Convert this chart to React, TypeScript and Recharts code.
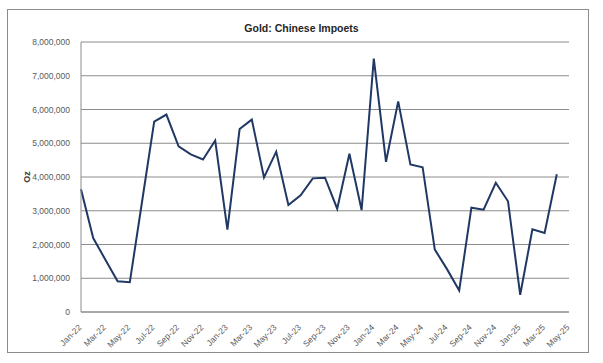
import { CartesianGrid, Line, LineChart, XAxis, YAxis } from "recharts";

const months = [
  "Jan-22", "Feb-22", "Mar-22", "Apr-22", "May-22", "Jun-22", "Jul-22", "Aug-22", "Sep-22", "Oct-22", "Nov-22", "Dec-22",
  "Jan-23", "Feb-23", "Mar-23", "Apr-23", "May-23", "Jun-23", "Jul-23", "Aug-23", "Sep-23", "Oct-23", "Nov-23", "Dec-23",
  "Jan-24", "Feb-24", "Mar-24", "Apr-24", "May-24", "Jun-24", "Jul-24", "Aug-24", "Sep-24", "Oct-24", "Nov-24", "Dec-24",
  "Jan-25", "Feb-25", "Mar-25", "Apr-25", "May-25",
];

// ounces imported per month (May-25 not yet reported)
const imports: (number | null)[] = [
  3640000, 2190000, 1550000, 910000, 880000, 3260000, 5640000, 5850000, 4910000, 4670000, 4520000, 5080000,
  2440000, 5420000, 5700000, 3990000, 4750000, 3170000, 3460000, 3960000, 3980000, 3060000, 4690000, 3020000,
  7510000, 4450000, 6240000, 4370000, 4290000, 1850000, 1270000, 640000, 3090000, 3030000, 3830000, 3280000,
  510000, 2450000, 2340000, 4080000, null,
];

const yTicks = [0, 1000000, 2000000, 3000000, 4000000, 5000000, 6000000, 7000000, 8000000];

const data = months.map((m, i) => ({ month: m, oz: imports[i] }));

const FONT = "'Liberation Sans', Arial, sans-serif";

const XTick = ({ x, y, payload }: any) => (
  <text
    x={x + 1}
    y={y + 8}
    transform={`rotate(-45 ${x + 1} ${y + 8})`}
    textAnchor="end"
    fontSize={8.5}
    fontFamily={FONT}
    fill="#595959"
  >
    {payload.value}
  </text>
);

const App = () => {
  return (
    <div
      style={{
        position: "absolute",
        left: 0,
        top: 0,
        width: 603,
        height: 363,
        background: "#fff",
        fontFamily: FONT,
      }}
    >
      <div
        style={{
          position: "absolute",
          left: 7,
          top: 9,
          width: 580,
          height: 342,
          border: "1px solid #8c8c8c",
        }}
      />
      <div
        style={{
          position: "absolute",
          left: 0,
          width: 603,
          top: 21,
          textAlign: "center",
          fontSize: 10.5,
          fontWeight: "bold",
          color: "#262626",
          lineHeight: "14px",
        }}
      >
        Gold: Chinese Impoets
      </div>
      <div
        style={{
          position: "absolute",
          left: 17,
          top: 170,
          width: 20,
          textAlign: "center",
          fontSize: 9,
          fontWeight: "bold",
          color: "#404040",
          lineHeight: "14px",
          transform: "rotate(-90deg)",
        }}
      >
        Oz
      </div>
      <div style={{ position: "absolute", left: 0, top: 0 }}>
        <LineChart
          width={603}
          height={363}
          data={data}
          margin={{ top: 42, right: 34, bottom: 0, left: 21 }}
        >
          <CartesianGrid vertical={false} stroke="#8c8c8c" strokeWidth={1} />
          <XAxis
            dataKey="month"
            interval={1}
            height={51}
            tickLine={false}
            axisLine={{ stroke: "#8c8c8c" }}
            tick={<XTick />}
          />
          <YAxis
            width={60}
            domain={[0, 8000000]}
            ticks={yTicks}
            tickLine={false}
            tickSize={8}
            tickMargin={3}
            axisLine={{ stroke: "#8c8c8c" }}
            tick={{ fontSize: 8.5, fill: "#595959", fontFamily: FONT }}
            tickFormatter={(v: number) => v.toLocaleString("en-US")}
          />
          <Line
            type="linear"
            dataKey="oz"
            stroke="#203864"
            strokeWidth={2}
            dot={false}
            isAnimationActive={false}
          />
        </LineChart>
      </div>
    </div>
  );
};

export default App;
